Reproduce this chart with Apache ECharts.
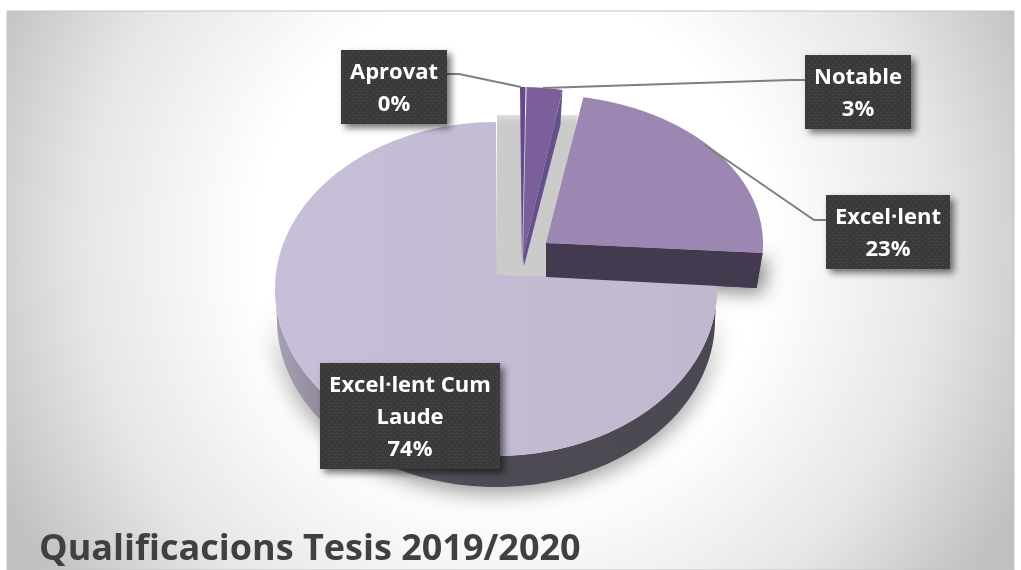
<!DOCTYPE html>
<html>
<head>
<meta charset="utf-8">
<style>html,body{margin:0;padding:0;background:#fff}#c{width:1021px;height:570px}</style>
<script src="https://cdn.jsdelivr.net/npm/echarts@6/dist/echarts.min.js"></script>
</head>
<body>
<div id="c"></div>
<script>
var categories = ['Aprovat', 'Notable', 'Excel·lent', 'Excel·lent Cum Laude'];
var values = [0.4, 2.6, 23, 74];
var titleText = 'Qualificacions Tesis 2019/2020';

var total = values.reduce(function (a, b) { return a + b; }, 0);
var DEG = Math.PI / 180;
var labelText = categories.map(function (c, i) {
  var n = i === 3 ? 'Excel·lent Cum\nLaude' : c;
  return n + '\n' + Math.round(values[i] / total * 100) + '%';
});

var shapes = [
  { cx: 520, cy: 247, rx: 221, ry: 160, v: [522, 265], top: '#66498c' },
  { cx: 521, cy: 257, rx: 221, ry: 170, v: [523, 256], top: '#7a5f9b', wall: '#64508a', dV: [1, 10], dP: [-2, 35] },
  { cx: 542, cy: 243.6, rx: 221, ry: 149, v: [546, 243], top: '#9b87b1', wall: '#443a50', dV: [0, 34], dP: [-6, 35] },
  { cx: 496, cy: 289, rx: 221, ry: 167, v: [497, 275], top: '#c4bbd4', overlap: 6, depth: 31, rxBottom: 219 }
];
var boxes = [
  { x: 341, y: 50, w: 106, h: 74, line: [[447, 74], [459, 74], [521, 87]] },
  { x: 805, y: 55, w: 106, h: 74, line: [[805, 80], [790, 80], [543, 88]] },
  { x: 826, y: 195, w: 124, h: 74, line: [[826, 220], [814, 220], [705, 145]] },
  { x: 320, y: 363, w: 180, h: 106 }
];

function pt(g, deg) {
  return [g.cx + g.rx * Math.sin(deg * DEG), g.cy - g.ry * Math.cos(deg * DEG)];
}
function startAngle(i) {
  var s = 0;
  for (var k = 0; k < i; k++) s += values[k];
  return s / total * 360;
}
function arc(g, a, b) {
  var out = [];
  for (var d = a; d < b; d += 1) out.push(pt(g, d));
  out.push(pt(g, b));
  return out;
}
function wedgeWall(g, end) {
  var p = pt(g, end);
  return [g.v, p, [p[0] + g.dP[0], p[1] + g.dP[1]], [g.v[0] + g.dV[0], g.v[1] + g.dV[1]]];
}

function dots() {
  var c = document.createElement('canvas');
  c.width = 6; c.height = 6;
  var x = c.getContext('2d');
  x.fillStyle = '#3a3a3a'; x.fillRect(0, 0, 6, 6);
  x.fillStyle = '#545454'; x.fillRect(1, 1, 1, 1); x.fillRect(4, 4, 1, 1);
  return c;
}
var pattern = { image: dots(), repeat: 'repeat' };

function renderSlice(params, api) {
  var i = values.length - 1 - params.dataIndex;
  var g = shapes[i];
  var a = startAngle(i);
  var b = a + api.value(0) / total * 360;
  var kids = [];
  if (i === 3) {
    var ex = shapes[2], exEnd = startAngle(3);
    kids.push({ type: 'polygon', shape: { points: wedgeWall(ex, exEnd) },
      style: { fill: ex.wall, shadowBlur: 18, shadowColor: 'rgba(0,0,0,0.45)', shadowOffsetX: 6, shadowOffsetY: 6 } });
    var front = arc(g, 90, 270);
    var gb = { cx: g.cx, cy: g.cy + g.depth, rx: g.rxBottom, ry: g.ry };
    var back = arc(gb, 90, 270).reverse();
    kids.push({ type: 'polygon', shape: { points: front.concat(back) },
      style: {
        fill: { type: 'linear', x: g.cx - g.rx, y: 0, x2: g.cx + g.rx, y2: 0, global: true, colorStops: [
          { offset: 0, color: '#a79fb3' }, { offset: 0.12, color: '#8f8799' },
          { offset: 0.3, color: '#5a5561' }, { offset: 0.45, color: '#4f4b55' }, { offset: 1, color: '#4c4852' }] },
        shadowBlur: 22, shadowColor: 'rgba(0,0,0,0.42)', shadowOffsetX: 0, shadowOffsetY: 6 } });
    kids.push({ type: 'polygon', shape: { points: [[497, 115], [578, 115], [545, 285], [497, 285]] },
      style: { fill: { type: 'linear', x: 0, y: 110, x2: 0, y2: 140, global: true, colorStops: [
        { offset: 0, color: 'rgba(203,203,203,0.3)' }, { offset: 0.4, color: '#cbcbcb' }, { offset: 1, color: '#cbcbcb' }] } } });
    var pts = [g.v].concat(arc(g, a - g.overlap, b));
    kids.push({ type: 'polygon', shape: { points: pts },
      style: { fill: { type: 'linear', x: g.cx - g.rx, y: 0, x2: g.cx + g.rx, y2: 0, global: true, colorStops: [
        { offset: 0, color: '#c7bfd7' }, { offset: 1, color: '#c1b8d0' }] } } });
  } else {
    if (g.wall) kids.push({ type: 'polygon', shape: { points: wedgeWall(g, b) }, style: { fill: g.wall } });
    kids.push({ type: 'polygon', shape: { points: [g.v].concat(arc(g, a, b)) }, style: { fill: g.top } });
  }
  return { type: 'group', children: kids };
}

function renderLabel(params) {
  var i = params.dataIndex, m = boxes[i], kids = [];
  if (m.line) kids.push({ type: 'polyline', shape: { points: m.line },
    style: { stroke: '#7f7f7f', lineWidth: 2, fill: 'none' } });
  kids.push({ type: 'rect', shape: { x: m.x, y: m.y, width: m.w, height: m.h },
    style: { fill: pattern, shadowBlur: 7, shadowColor: 'rgba(0,0,0,0.55)', shadowOffsetX: 4, shadowOffsetY: 4 } });
  kids.push({ type: 'text', style: {
    text: labelText[i], x: m.x + m.w / 2, y: m.y + m.h / 2 + 2, align: 'center', verticalAlign: 'middle',
    fill: '#ffffff', font: 'bold 22px "Open Sans"', lineHeight: 32 } });
  return { type: 'group', children: kids };
}

var chart = echarts.init(document.getElementById('c'), null, { renderer: 'canvas' });
chart.setOption({
  animation: false,
  backgroundColor: '#ffffff',
  title: {
    text: titleText, left: 34, top: 527,
    textStyle: { fontFamily: 'Open Sans', fontWeight: 'bold', fontSize: 36, color: '#404040' }
  },
  graphic: [{
    type: 'rect', z: -10, silent: true,
    shape: { x: 7, y: 11, width: 1007, height: 559 },
    style: {
      fill: { type: 'radial', x: 510, y: 245, r: 570, global: true, colorStops: [
        { offset: 0, color: '#ffffff' }, { offset: 0.45, color: '#ffffff' },
        { offset: 0.75, color: '#e6e6e6' }, { offset: 1, color: '#c0c0c0' }] },
      stroke: '#c4c4c4', lineWidth: 1
    }
  }],
  series: [
    { type: 'custom', name: 'slices', coordinateSystem: 'none', silent: true, z: 2,
      data: values.slice().reverse().map(function (v) { return [v]; }),
      renderItem: renderSlice },
    { type: 'custom', name: 'labels', coordinateSystem: 'none', silent: true, z: 5,
      data: values.map(function (v) { return [v]; }),
      renderItem: renderLabel }
  ]
});
</script>
</body>
</html>
